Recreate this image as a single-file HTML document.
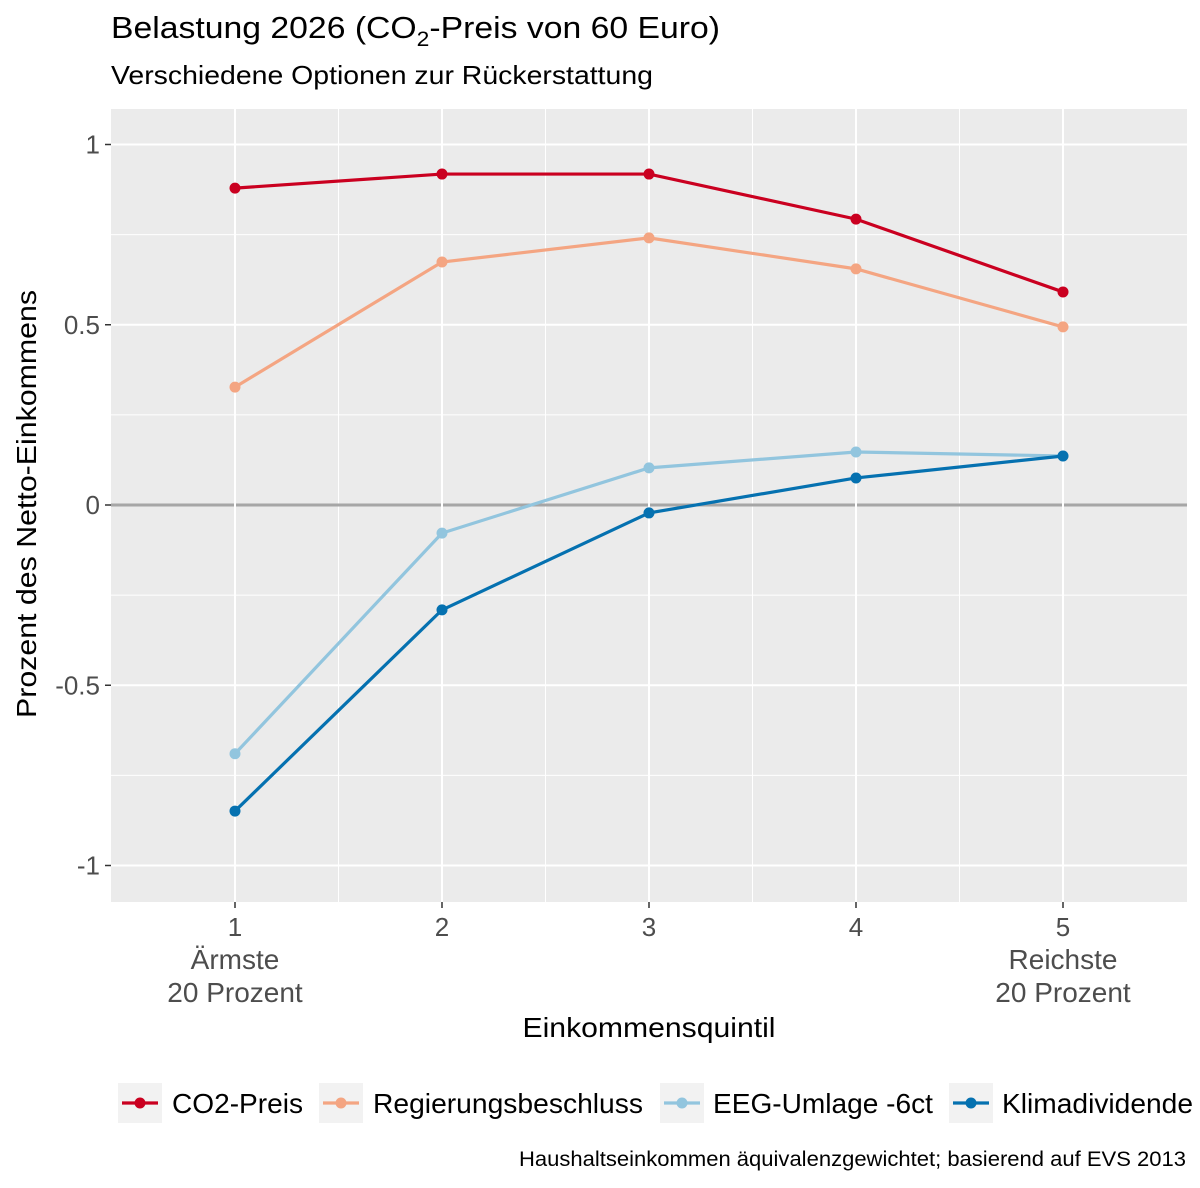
<!DOCTYPE html>
<html><head><meta charset="utf-8"><style>
body{margin:0;background:#fff;}
svg text{font-family:"Liberation Sans",Arial,sans-serif;}
</style></head><body>
<svg id="chart" width="1200" height="1183" xmlns="http://www.w3.org/2000/svg">
<rect width="1200" height="1183" fill="#fff"/>
<text x="111" y="38" font-size="31" fill="#000" textLength="609" lengthAdjust="spacingAndGlyphs">Belastung 2026 (CO<tspan font-size="21" dy="8">2</tspan><tspan dy="-8">-Preis von 60 Euro)</tspan></text>
<text x="111" y="84" font-size="26" fill="#000" textLength="542" lengthAdjust="spacingAndGlyphs">Verschiedene Optionen zur Rückerstattung</text>
<rect x="111" y="109" width="1076" height="793" fill="#EBEBEB"/>
<g id="grid"></g>
<g id="axes"></g>
<g id="series"></g>
<text transform="translate(36,504) rotate(-90)" text-anchor="middle" font-size="28" fill="#000" textLength="428" lengthAdjust="spacingAndGlyphs">Prozent des Netto-Einkommens</text>
<text x="649" y="1037" text-anchor="middle" font-size="28" fill="#000" textLength="253" lengthAdjust="spacingAndGlyphs">Einkommensquintil</text>
<g id="legend"></g>
<text x="1186" y="1166" text-anchor="end" font-size="21" fill="#000" textLength="667" lengthAdjust="spacingAndGlyphs">Haushaltseinkommen äquivalenzgewichtet; basierend auf EVS 2013</text>
</svg>
<script>
const categories=[1,2,3,4,5];
const seriesNames=["CO2-Preis","Regierungsbeschluss","EEG-Umlage -6ct","Klimadividende"];
const co2Preis=[0.879,0.918,0.918,0.793,0.591];
const regierung=[0.327,0.674,0.741,0.655,0.494];
const eegUmlage=[-0.690,-0.078,0.103,0.147,0.136];
const klimadividende=[-0.849,-0.291,-0.022,0.075,0.136];
const yTicks=[1,0.5,0,-0.5,-1];
const yTickLabels=["1","0.5","0","-0.5","-1"];
const xTickLabels=["1","2","3","4","5"];
const xSubLabels=[["Ärmste","20 Prozent"],null,null,null,["Reichste","20 Prozent"]];

const NS="http://www.w3.org/2000/svg";
const X=v=>235+(v-1)*207;
const Y=v=>505-v*360.5;
function mk(tag,attrs,parent){const e=document.createElementNS(NS,tag);for(const k in attrs)e.setAttribute(k,attrs[k]);document.getElementById(parent).appendChild(e);return e;}
for(let v=-1.25;v<=1.01;v+=0.5){if(Y(v)<109||Y(v)>902)continue;const l=mk('line',{x1:111,x2:1187,y1:Y(v),y2:Y(v),stroke:'#fff','stroke-width':1},'grid');

}
for(let c=1.5;c<5;c+=1){const l=mk('line',{x1:X(c),x2:X(c),y1:109,y2:902,stroke:'#fff','stroke-width':1},'grid');

}
yTicks.forEach((v,i)=>{const l=mk('line',{x1:111,x2:1187,y1:Y(v),y2:Y(v),stroke:v===0?'#A6A6A6':'#fff','stroke-width':v===0?3:2},'grid');


const t=mk('line',{x1:105,x2:111,y1:Y(v),y2:Y(v),stroke:'#333','stroke-width':1.5},'axes');


const tx=mk('text',{x:100,y:Y(v)+9,'text-anchor':'end','font-size':26,fill:'#4D4D4D'},'axes');tx.textContent=yTickLabels[i];

});
categories.forEach((c,i)=>{const l=mk('line',{x1:X(c),x2:X(c),y1:109,y2:902,stroke:'#fff','stroke-width':2},'grid');


const t=mk('line',{x1:X(c),x2:X(c),y1:902,y2:908,stroke:'#333','stroke-width':1.5},'axes');


const tx=mk('text',{x:X(c),y:936,'text-anchor':'middle','font-size':26,fill:'#4D4D4D'},'axes');tx.textContent=xTickLabels[i];


if(xSubLabels[i]){xSubLabels[i].forEach((s,j)=>{const st=mk('text',{x:X(c),y:969+j*33,'text-anchor':'middle','font-size':28,fill:'#4D4D4D'},'axes');st.textContent=s;

});}});
const all=[co2Preis,regierung,eegUmlage,klimadividende];
const colors=["#CA0020","#F4A582","#92C5DE","#0571B0"];
all.forEach((vals,si)=>{const pts=vals.map((v,i)=>X(categories[i])+','+Y(v)).join(' ');
const pl=mk('polyline',{points:pts,fill:'none',stroke:colors[si],'stroke-width':3.2},'series');


vals.forEach((v,i)=>{const c=mk('circle',{cx:X(categories[i]),cy:Y(v),r:5.5,fill:colors[si]},'series');

});});
const legX=[118,319,660,949];
const legTextX=[172,373,713,1002];
const legTextW=[131,270,220,191];
seriesNames.forEach((n,i)=>{const bg=mk('rect',{x:legX[i],y:1083,width:44,height:40,fill:'#F2F2F2'},'legend');


const l=mk('line',{x1:legX[i]+4,x2:legX[i]+40,y1:1103,y2:1103,stroke:colors[i],'stroke-width':3.2},'legend');


const c=mk('circle',{cx:legX[i]+22,cy:1103,r:5.5,fill:colors[i]},'legend');


const t=mk('text',{x:legTextX[i],y:1113,'font-size':28,fill:'#000',textLength:legTextW[i],lengthAdjust:'spacingAndGlyphs'},'legend');t.textContent=n;

});
</script>
</body></html>
